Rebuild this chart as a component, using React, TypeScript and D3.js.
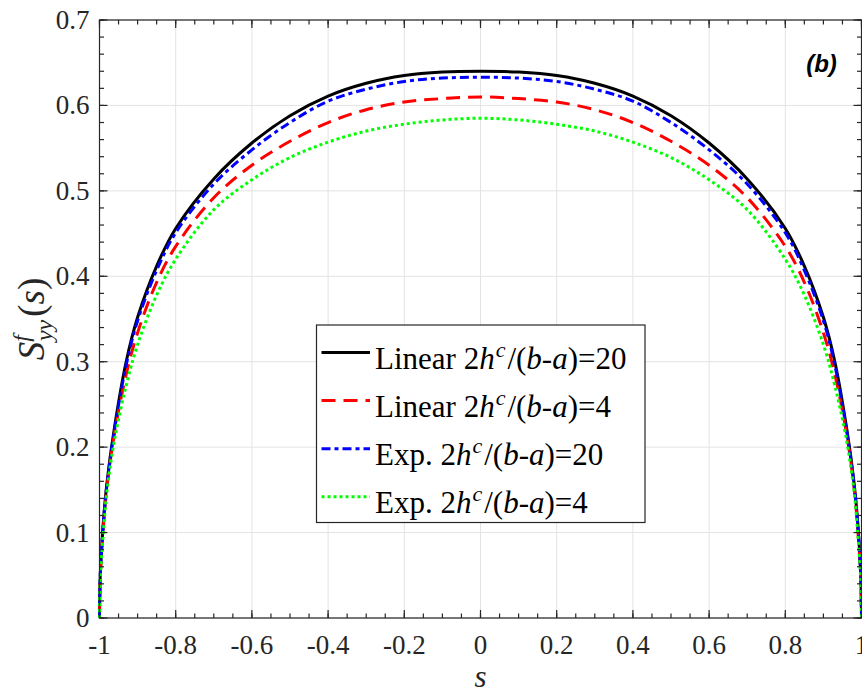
import React from "react";
import * as d3 from "d3";

const sValues = [-1, -0.998, -0.99, -0.98, -0.96, -0.93, -0.9, -0.85, -0.8, -0.7, -0.6, -0.5, -0.4, -0.3, -0.2, -0.1, 0, 0.1, 0.2, 0.3, 0.4, 0.5, 0.6, 0.7, 0.8, 0.85, 0.9, 0.93, 0.96, 0.98, 0.99, 0.998, 1];
const linear20 = [0, 0.05, 0.112, 0.16, 0.225, 0.3, 0.352, 0.412, 0.456, 0.514, 0.556, 0.588, 0.611, 0.626, 0.635, 0.639, 0.64, 0.639, 0.635, 0.626, 0.611, 0.588, 0.556, 0.514, 0.456, 0.412, 0.352, 0.3, 0.225, 0.16, 0.112, 0.05, 0];
const linear4 = [0, 0.048, 0.105, 0.155, 0.218, 0.285, 0.334, 0.393, 0.435, 0.492, 0.53, 0.558, 0.58, 0.595, 0.604, 0.608, 0.61, 0.608, 0.604, 0.595, 0.58, 0.558, 0.53, 0.492, 0.435, 0.393, 0.334, 0.285, 0.218, 0.155, 0.105, 0.048, 0];
const exp20 = [0, 0.05, 0.11, 0.158, 0.222, 0.296, 0.348, 0.407, 0.451, 0.508, 0.548, 0.58, 0.605, 0.619, 0.628, 0.632, 0.633, 0.632, 0.628, 0.619, 0.605, 0.58, 0.548, 0.508, 0.451, 0.407, 0.348, 0.296, 0.222, 0.158, 0.11, 0.05, 0];
const exp4 = [0, 0.045, 0.1, 0.15, 0.21, 0.272, 0.32, 0.378, 0.42, 0.478, 0.513, 0.539, 0.557, 0.57, 0.578, 0.583, 0.585, 0.583, 0.578, 0.57, 0.557, 0.539, 0.513, 0.478, 0.42, 0.378, 0.32, 0.272, 0.21, 0.15, 0.1, 0.045, 0];

const xTicks = [-1, -0.8, -0.6, -0.4, -0.2, 0, 0.2, 0.4, 0.6, 0.8, 1];
const xTickLabels = ["-1", "-0.8", "-0.6", "-0.4", "-0.2", "0", "0.2", "0.4", "0.6", "0.8", "1"];
const yTicks = [0, 0.1, 0.2, 0.3, 0.4, 0.5, 0.6, 0.7];
const yTickLabels = ["0", "0.1", "0.2", "0.3", "0.4", "0.5", "0.6", "0.7"];

const seriesNames = ["Linear", "Linear", "Exp.", "Exp."];
const seriesRatios = ["20", "4", "20", "4"];
const seriesData = [linear20, linear4, exp20, exp4];
const seriesColors = ["#000000", "#ff0000", "#0000ff", "#00ff00"];
const seriesDash = ["", "14,8", "9,4,4,4", "3,3"];

const W = 862;
const H = 693;
const L = 99.5, R = 861.5, T = 20, B = 618;
const AX = "#262626";
const SERIF = "Liberation Serif";

export default function App() {
  const x = d3.scaleLinear().domain([-1, 1]).range([L, R]);
  const y = d3.scaleLinear().domain([0, 0.7]).range([B, T]);
  const line = d3
    .line<number>()
    .x((_, i) => x(sValues[i]))
    .y((d) => y(d))
    .curve(d3.curveCatmullRom.alpha(0.5));

  const xMinor = d3.range(-1, 1.0001, 0.05);
  const yMinor = d3.range(0, 0.7001, 0.02);

  const legX = 316.5, legY = 325, legW = 328.5, legH = 197.5;
  const rowY0 = 352.5, rowGap = 48.1;

  return (
    <svg
      width={W}
      height={H}
      style={{ position: "absolute", left: 0, top: 0 }}
    >
      <rect x={0} y={0} width={W} height={H} fill="#fff" />
      <defs>
        <clipPath id="plotclip">
          <rect x={L - 3} y={T} width={R - L + 6} height={B - T + 2} />
        </clipPath>
      </defs>
      {xTicks.map((t) => (
        <line key={"gx" + t} x1={x(t)} x2={x(t)} y1={T} y2={B} stroke="#e3e3e3" strokeWidth={1} />
      ))}
      {yTicks.map((t) => (
        <line key={"gy" + t} x1={L} x2={R} y1={y(t)} y2={y(t)} stroke="#e3e3e3" strokeWidth={1} />
      ))}
      <g clipPath="url(#plotclip)">
        {seriesData.map((d, i) => (
          <path
            key={"s" + i}
            d={line(d) || ""}
            fill="none"
            stroke={seriesColors[i]}
            strokeWidth={3}
            strokeDasharray={seriesDash[i] || undefined}
          />
        ))}
      </g>
      <rect x={L} y={T} width={R - L} height={B - T} fill="none" stroke={AX} strokeWidth={1.2} />
      {xMinor.map((t, i) => (
        <g key={"xm" + i}>
          <line x1={x(t)} x2={x(t)} y1={B} y2={B - 4.5} stroke={AX} strokeWidth={1.2} />
          <line x1={x(t)} x2={x(t)} y1={T} y2={T + 4.5} stroke={AX} strokeWidth={1.2} />
        </g>
      ))}
      {xTicks.map((t) => (
        <g key={"xt" + t}>
          <line x1={x(t)} x2={x(t)} y1={B} y2={B - 8} stroke={AX} strokeWidth={1.2} />
          <line x1={x(t)} x2={x(t)} y1={T} y2={T + 8} stroke={AX} strokeWidth={1.2} />
        </g>
      ))}
      {yMinor.map((t, i) => (
        <g key={"ym" + i}>
          <line x1={L} x2={L + 4.5} y1={y(t)} y2={y(t)} stroke={AX} strokeWidth={1.2} />
          <line x1={R} x2={R - 4.5} y1={y(t)} y2={y(t)} stroke={AX} strokeWidth={1.2} />
        </g>
      ))}
      {yTicks.map((t) => (
        <g key={"yt" + t}>
          <line x1={L} x2={L + 8} y1={y(t)} y2={y(t)} stroke={AX} strokeWidth={1.2} />
          <line x1={R} x2={R - 8} y1={y(t)} y2={y(t)} stroke={AX} strokeWidth={1.2} />
        </g>
      ))}
      {xTicks.map((t, i) => (
        <text key={"xl" + t} x={x(t)} y={654} textAnchor="middle" fontSize={27} fontFamily={SERIF} fill={AX}>
          {xTickLabels[i]}
        </text>
      ))}
      {yTicks.map((t, i) => (
        <text key={"yl" + t} x={89.5} y={y(t) + 9} textAnchor="end" fontSize={27} fontFamily={SERIF} fill={AX}>
          {yTickLabels[i]}
        </text>
      ))}
      <text x={x(0)} y={687} textAnchor="middle" fontSize={31} fontStyle="italic" fontFamily={SERIF} fill={AX}>
        s
      </text>
      <text
        transform={`translate(44, ${(T + B) / 2}) rotate(-90)`}
        textAnchor="middle"
        fontSize={37}
        fontFamily={SERIF}
        fill={AX}
      >
        <tspan fontStyle="italic">S</tspan>
        <tspan fontStyle="italic" fontSize={24} dy={-15}>f</tspan>
        <tspan fontStyle="italic" fontSize={24} dx={-6} dy={23}>yy</tspan>
        <tspan dy={-8} dx={3}>(</tspan>
        <tspan fontStyle="italic">s</tspan>
        <tspan>)</tspan>
      </text>
      <text
        x={821.5}
        y={72}
        textAnchor="middle"
        fontSize={24}
        fontWeight="bold"
        fontStyle="italic"
        fontFamily="Liberation Sans"
        fill="#000"
      >
        (b)
      </text>
      <rect x={legX} y={legY} width={legW} height={legH} fill="#fff" stroke={AX} strokeWidth={1.2} />
      {seriesData.map((_, i) => {
        const ry = rowY0 + i * rowGap;
        return (
          <g key={"lg" + i}>
            <line
              x1={321.5}
              x2={370}
              y1={ry}
              y2={ry}
              stroke={seriesColors[i]}
              strokeWidth={3}
              strokeDasharray={seriesDash[i] || undefined}
            />
            <text x={375} y={ry + 16} fontSize={31} fontFamily={SERIF} fill="#000">
              <tspan>{seriesNames[i] + " 2"}</tspan>
              <tspan fontStyle="italic">h</tspan>
              <tspan fontStyle="italic" fontSize={22} dy={-12} dx={1}>c</tspan>
              <tspan dy={12} dx={2}>/(</tspan>
              <tspan fontStyle="italic">b</tspan>
              <tspan>-</tspan>
              <tspan fontStyle="italic">a</tspan>
              <tspan>{")=" + seriesRatios[i]}</tspan>
            </text>
          </g>
        );
      })}
    </svg>
  );
}
